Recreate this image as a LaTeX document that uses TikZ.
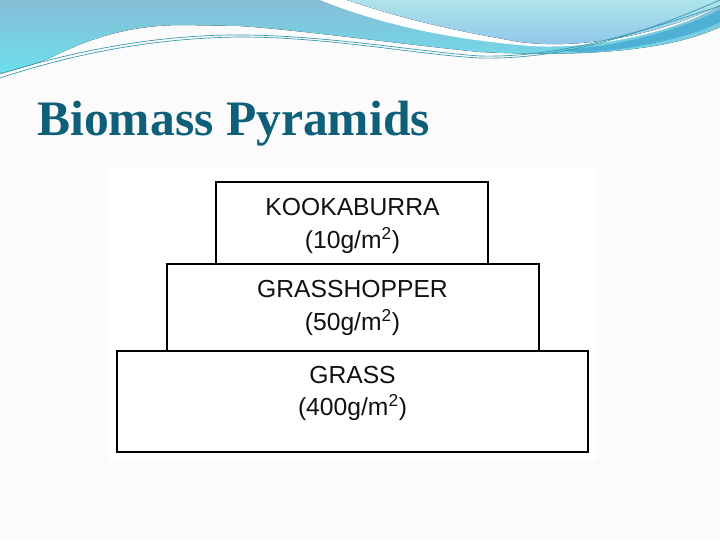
\documentclass[tikz,border=0pt]{standalone}
\usepackage{fontspec}
\setmainfont{Liberation Serif}
\newfontfamily\arialf{Liberation Sans}
\usetikzlibrary{fit}
\definecolor{pagebg}{HTML}{FBFBFC}
\definecolor{bandtop}{HTML}{86BCD6}
\definecolor{bandbot}{HTML}{6CE0EC}
\definecolor{lighttop}{HTML}{AEE3EA}
\definecolor{lightbot}{HTML}{8CC4EA}
\definecolor{stripecol}{HTML}{4EB0D4}
\definecolor{thinline}{HTML}{3497AC}
\definecolor{titlecol}{HTML}{0E5F78}
\definecolor{boxtext}{HTML}{111111}
\tikzset{
  levelbox/.style={draw=black, line width=1.5pt, fill=white, inner sep=0pt},
  leveltext/.style={anchor=base, inner sep=0pt, text=boxtext, font=\arialf\fontsize{18.5}{22}\selectfont},
  wave/.style={draw=thinline, line width=0.5pt}
}
\begin{document}
\begin{tikzpicture}[x=0.75pt,y=-0.75pt]
\useasboundingbox (0,0) rectangle (720,540);
\fill[pagebg] (0,0) rectangle (720,540);
\fill[white] (108,167) rectangle (597,460);
% header band
\fill[top color=bandtop, bottom color=bandbot] (0,0) -- (720,0) -- (720,27)
  .. controls (660,55) and (560,56) .. (480,52)
  .. controls (400,44) and (300,30) .. (240,26)
  -- (183,25) .. controls (130,25) and (90,38) .. (50,58)
  .. controls (30,66) and (15,70) .. (0,73) -- cycle;
\fill[stripecol] (560,50) .. controls (630,46) and (690,25) .. (720,10) -- (720,22)
  .. controls (690,38) and (630,50) .. (580,53) -- cycle;
\fill[white] (320,0) .. controls (390,28) and (460,40) .. (530,46)
  .. controls (600,50) and (680,30) .. (720,5) -- (720,0) -- cycle;
\fill[top color=lighttop, bottom color=lightbot] (347,0) .. controls (400,18) and (450,30) .. (520,42)
  .. controls (580,50) and (660,35) .. (720,5) -- (720,0) -- cycle;
\draw[wave] (0,78) .. controls (70,55) and (150,38) .. (240,37)
  .. controls (330,37) and (420,55) .. (480,58) .. controls (560,60) and (640,35) .. (720,0);
\draw[wave] (0,74) .. controls (70,52) and (150,36) .. (230,35)
  .. controls (320,34) and (420,52) .. (480,56) .. controls (560,58) and (640,32) .. (720,6);
% title
\node[anchor=base west, inner sep=0pt, text=titlecol, font=\fontsize{37.2}{40}\selectfont\bfseries] (title) at (37,135) {Biomass Pyramids};
% pyramid boxes
\coordinate (g1) at (117,351); \coordinate (g2) at (588,452);
\coordinate (h1) at (167,264); \coordinate (h2) at (539,351);
\coordinate (k1) at (216,182); \coordinate (k2) at (488,264);
\node[levelbox, fit=(g1)(g2)] (grass) {};
\node[levelbox, fit=(h1)(h2)] (hopper) {};
\node[levelbox, fit=(k1)(k2)] (kook) {};
\node[leveltext] (kookname) at (352.5,215) {KOOKABURRA};
\node[leveltext] (kookmass) at (352.5,248) {(10g/m\textsuperscript{2})};
\node[leveltext] (hoppername) at (352.5,297) {GRASSHOPPER};
\node[leveltext] (hoppermass) at (352.5,330) {(50g/m\textsuperscript{2})};
\node[leveltext] (grassname) at (352.5,383) {GRASS};
\node[leveltext] (grassmass) at (352.5,415) {(400g/m\textsuperscript{2})};
\end{tikzpicture}
\end{document}
